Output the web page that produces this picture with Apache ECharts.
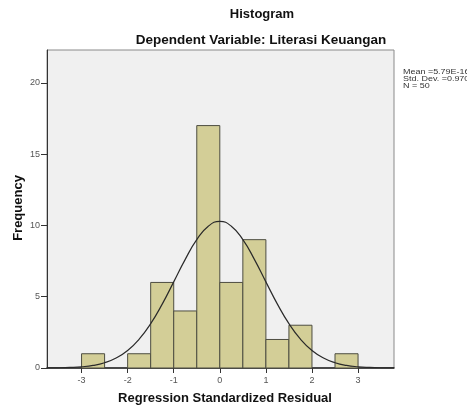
<!DOCTYPE html>
<html>
<head>
<meta charset="utf-8">
<script src="https://cdn.jsdelivr.net/npm/echarts@6/dist/echarts.min.js"></script>
<style>html,body{margin:0;padding:0;background:#fff}#c{width:467px;height:408px}</style>
</head>
<body>
<div id="c"></div>
<script>
var binStarts = [-3, -2.5, -2, -1.5, -1, -0.5, 0, 0.5, 1, 1.5, 2, 2.5];
var binWidth = 0.5;
var counts = [1, 0, 1, 6, 4, 17, 6, 9, 2, 3, 0, 1];
var curveX = [-3.75, -3.5, -3.25, -3, -2.75, -2.5, -2.25, -2, -1.75, -1.5, -1.25, -1, -0.75, -0.5, -0.25, 0, 0.25, 0.5, 0.75, 1, 1.25, 1.5, 1.75, 2, 2.25, 2.5, 2.75, 3, 3.25, 3.5, 3.78];
var curveY = [0.006, 0.015, 0.04, 0.086, 0.18, 0.37, 0.70, 1.23, 2.02, 3.11, 4.48, 6.04, 7.62, 9.00, 9.94, 10.28, 9.94, 9.00, 7.62, 6.04, 4.48, 3.11, 2.02, 1.23, 0.70, 0.37, 0.18, 0.086, 0.04, 0.015, 0.005];
var xTicks = [-3, -2, -1, 0, 1, 2, 3];
var yTicks = [0, 5, 10, 15, 20];
var statsText = ['Mean =5.79E-16', 'Std. Dev. =0.970', 'N = 50'];

var barData = binStarts.map(function (s, i) { return [s, s + binWidth, counts[i]]; }).filter(function (d) { return d[2] > 0; });
var lineData = curveX.map(function (x, i) { return [x, curveY[i]]; });

var font = '"Liberation Sans", Arial, sans-serif';
var boldFont = function (size) { return 'bold ' + size + 'px ' + font; };
var graphics = [
  {type: 'text', x: 262, y: 14, style: {text: 'Histogram', font: boldFont(13), fill: '#111', textAlign: 'center', textVerticalAlign: 'middle'}},
  {type: 'text', x: 261, y: 40, style: {text: 'Dependent Variable: Literasi Keuangan', font: boldFont(13.5), fill: '#111', textAlign: 'center', textVerticalAlign: 'middle'}},
  {type: 'text', x: 225, y: 398, style: {text: 'Regression Standardized Residual', font: boldFont(13), fill: '#111', textAlign: 'center', textVerticalAlign: 'middle'}},
  {type: 'text', x: 18, y: 208, rotation: Math.PI / 2, style: {text: 'Frequency', font: boldFont(13), fill: '#111', textAlign: 'center', textVerticalAlign: 'middle'}}
];
statsText.forEach(function (t, i) {
  graphics.push({type: 'text', x: 403, y: 72 + i * 7, scaleX: 1.12, style: {text: t, fill: '#333', font: '8px ' + font, textVerticalAlign: 'middle'}});
});

var chart = echarts.init(document.getElementById('c'), null, {renderer: 'canvas'});
chart.setOption({
  animation: false,
  backgroundColor: '#fff',
  graphic: graphics,
  grid: {left: 47, right: 73, top: 50, bottom: 40, show: true, backgroundColor: '#f0f0f0', borderColor: '#8a8a8a', borderWidth: 1},
  xAxis: {
    type: 'value', min: -3.75, max: 3.78,
    axisLine: {show: true, onZero: false, lineStyle: {color: '#222', width: 1.5}},
    axisTick: {show: true, length: 5, customValues: xTicks, lineStyle: {color: '#333'}},
    axisLabel: {customValues: xTicks, fontFamily: font, fontSize: 9, color: '#555', margin: 8},
    splitLine: {show: false}
  },
  yAxis: {
    type: 'value', min: 0, max: 22.3,
    axisLine: {show: true, onZero: false, lineStyle: {color: '#333', width: 1}},
    axisTick: {show: true, length: 6, customValues: yTicks, lineStyle: {color: '#333'}},
    axisLabel: {customValues: yTicks, fontFamily: font, fontSize: 9, color: '#555', margin: 7},
    splitLine: {show: false}
  },
  series: [
    {
      type: 'custom',
      data: barData,
      encode: {x: [0, 1], y: 2},
      renderItem: function (params, api) {
        var p0 = api.coord([api.value(0), api.value(2)]);
        var p1 = api.coord([api.value(1), 0]);
        return {type: 'rect', shape: {x: p0[0], y: p0[1], width: p1[0] - p0[0], height: p1[1] - p0[1]},
          style: {fill: '#d3ce97', stroke: '#4d4d40', lineWidth: 1}};
      },
      z: 2
    },
    {
      type: 'line', data: lineData, smooth: true, showSymbol: false, symbol: 'none',
      lineStyle: {color: '#2a2a2a', width: 1.2}, z: 3
    }
  ]
});
</script>
</body>
</html>
